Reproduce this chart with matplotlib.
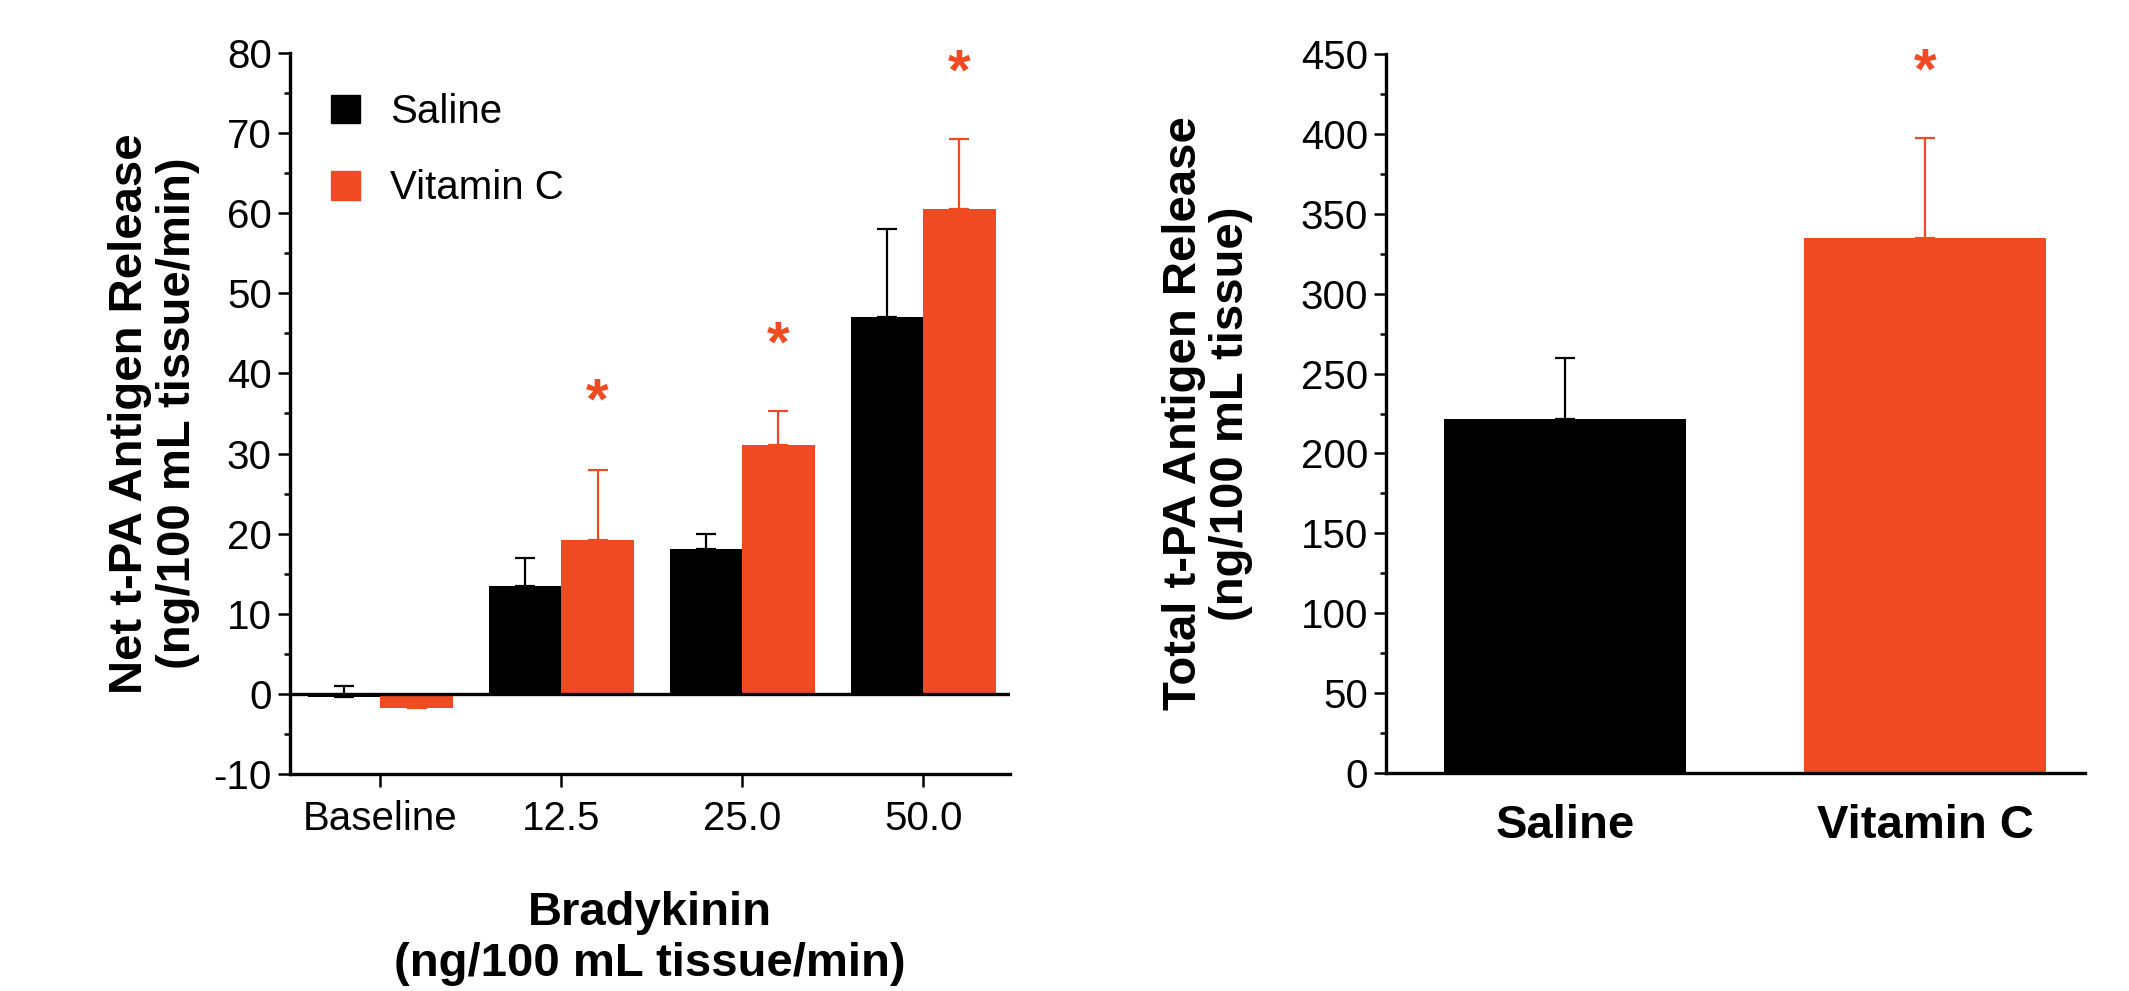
import numpy as np
import matplotlib
matplotlib.use('Agg')
import matplotlib.pyplot as plt
from matplotlib.patches import Patch

plt.rcParams['font.family'] = ['Liberation Sans', 'DejaVu Sans']
plt.rcParams['axes.unicode_minus'] = False

# donnees du panneau de gauche (net release)
doses = ['Baseline', '12.5', '25.0', '50.0']
saline_net = [-0.4, 13.5, 18.1, 47.1]
saline_net_err = [1.4, 3.5, 1.8, 10.9]
vitc_net = [-1.8, 19.2, 31.1, 60.5]
vitc_net_err = [0.5, 8.8, 4.2, 8.8]
star_net = [None, 36.2, 43.4, 77.3]

# donnees du panneau de droite (total release)
groups = ['Saline', 'Vitamin C']
total = [221.8, 335.0]
total_err = [38.0, 62.7]
star_total = [None, 438]

orange = '#F04A23'
black = '#000000'

fig = plt.figure(figsize=(21.29, 9.91), dpi=100)

# ---- panneau gauche
ax1 = fig.add_axes([290/2129, 1-774/991, 720/2129, 721/991])
x = np.arange(len(doses))
w = 0.40
ax1.bar(x - w/2, saline_net, w, color=black, zorder=2)
ax1.bar(x + w/2, vitc_net, w, color=orange, zorder=2)
ax1.errorbar(x - w/2, saline_net, yerr=[np.zeros(4), saline_net_err], fmt='none',
             ecolor=black, elinewidth=1.6, capsize=7, capthick=1.6, zorder=1)
ax1.errorbar(x + w/2, vitc_net, yerr=[np.zeros(4), vitc_net_err], fmt='none',
             ecolor=orange, elinewidth=1.6, capsize=7, capthick=1.6, zorder=1)
for i, s in enumerate(star_net):
    if s is not None:
        ax1.text(x[i] + w/2, s, '*', color=orange, fontsize=42, fontweight='bold',
                 ha='center', va='center')
ax1.axhline(0, color='black', lw=2.4, zorder=3)
ax1.set_xlim(-0.5, 3.48)
ax1.set_ylim(-10, 80)
ax1.set_yticks(np.arange(-10, 81, 10))
ax1.set_yticks(np.arange(-10, 81, 5), minor=True)
ax1.set_xticks(x)
ax1.set_xticklabels(doses)
ax1.set_ylabel('Net t-PA Antigen Release\n(ng/100 mL tissue/min)', fontsize=34,
               fontweight='bold', labelpad=10, linespacing=1.1)
ax1.set_xlabel('Bradykinin\n(ng/100 mL tissue/min)', fontsize=34, fontweight='bold',
               labelpad=38, linespacing=1.2)
ax1.legend(handles=[Patch(color=black, label='Saline'), Patch(color=orange, label='Vitamin C')],
           loc='upper left', bbox_to_anchor=(331/2129, 1-93/991), bbox_transform=fig.transFigure,
           frameon=False, fontsize=29, handlelength=0.72, handleheight=0.72,
           handletextpad=0.75, labelspacing=0.95, borderpad=0, borderaxespad=0)

# ---- panneau droit
ax2 = fig.add_axes([1386/2129, 1-773/991, 699/2129, 719/991])
x2 = np.arange(len(groups))
ax2.bar(x2, total, 0.672, color=[black, orange], zorder=2)
ax2.errorbar(x2[0], total[0], yerr=[[0], [total_err[0]]], fmt='none', ecolor=black,
             elinewidth=1.6, capsize=7, capthick=1.6, zorder=1)
ax2.errorbar(x2[1], total[1], yerr=[[0], [total_err[1]]], fmt='none', ecolor=orange,
             elinewidth=1.6, capsize=7, capthick=1.6, zorder=1)
for i, s in enumerate(star_total):
    if s is not None:
        ax2.text(x2[i], s, '*', color=orange, fontsize=42, fontweight='bold',
                 ha='center', va='center')
ax2.set_xlim(-0.497, 1.444)
ax2.set_ylim(0, 450)
ax2.set_yticks(np.arange(0, 451, 50))
ax2.set_yticks(np.arange(0, 451, 25), minor=True)
ax2.set_xticks(x2)
ax2.set_xticklabels(groups, fontsize=34, fontweight='bold')
ax2.tick_params(axis='x', length=0, pad=22)
ax2.set_ylabel('Total t-PA Antigen Release\n(ng/100 mL tissue)', fontsize=34,
               fontweight='bold', labelpad=34, linespacing=1.1)

for ax in (ax1, ax2):
    for sp in ('top', 'right'):
        ax.spines[sp].set_visible(False)
    for sp in ('left', 'bottom'):
        ax.spines[sp].set_linewidth(2.4)
    ax.tick_params(axis='y', which='major', length=9, width=1.8, labelsize=29, pad=4)
    ax.tick_params(axis='y', which='minor', length=4, width=1.8)
ax1.tick_params(axis='x', which='major', length=9, width=1.8, labelsize=29, pad=10)
ax1.tick_params(axis='x', which='minor', bottom=False)

fig.savefig('out.png', dpi=100)
